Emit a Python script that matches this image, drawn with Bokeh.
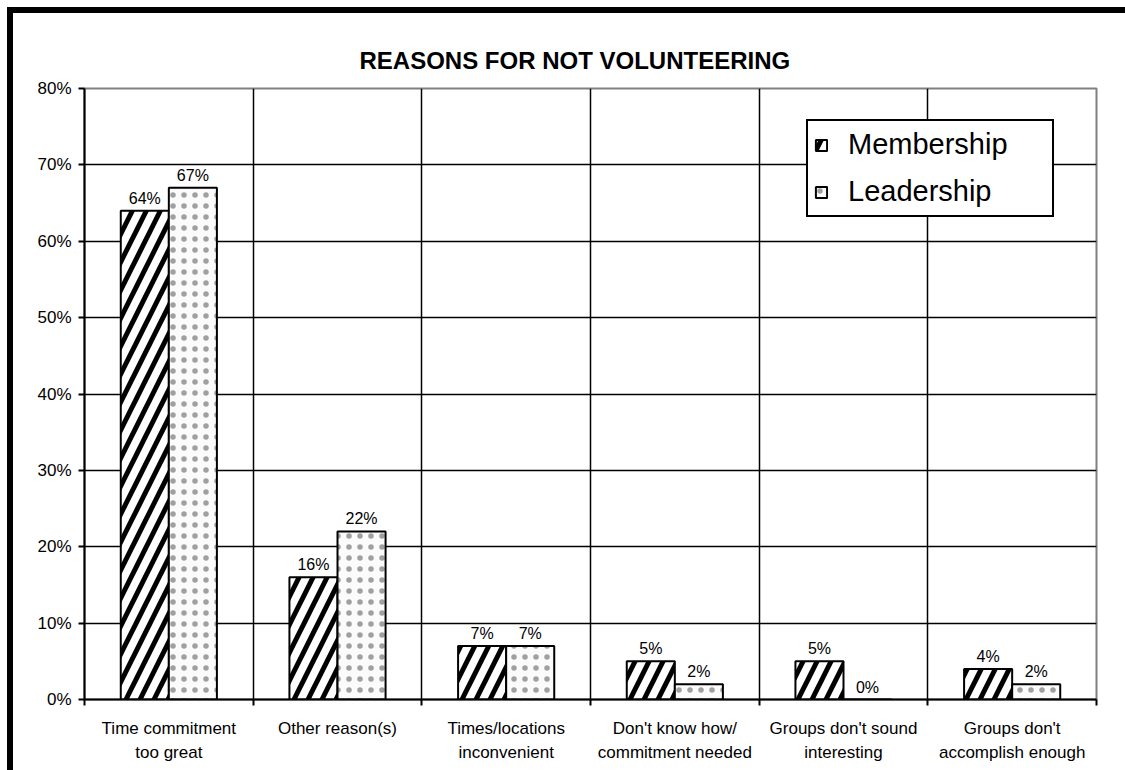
from bokeh.plotting import figure
from bokeh.models import (FixedTicker, PrintfTickFormatter, Legend, LegendItem,
                          ColumnDataSource, Range1d)
from bokeh.core.properties import value
from bokeh.embed import file_html
from bokeh.resources import INLINE

# ---- data ----
title_text = "REASONS FOR NOT VOLUNTEERING"
categories = ["Time commitment\ntoo great", "Other reason(s)", "Times/locations\ninconvenient",
              "Don't know how/\ncommitment needed", "Groups don't sound\ninteresting",
              "Groups don't\naccomplish enough"]
series_names = ["Membership", "Leadership"]
membership = [64, 16, 7, 5, 5, 4]
leadership = [67, 22, 7, 2, 0, 2]
y_ticks = [0, 10, 20, 30, 40, 50, 60, 70, 80]

FONT = "Liberation Sans"
n = len(categories)
centers = [i + 0.5 for i in range(n)]
bar_w = 0.285

src_m = ColumnDataSource(dict(x=[c - bar_w / 2 for c in centers], top=membership,
                              lab=[f"{v}%" for v in membership]))
src_l = ColumnDataSource(dict(x=[c + bar_w / 2 for c in centers], top=leadership,
                              lab=[f"{v}%" for v in leadership]))

p = figure(width=1112, height=757, x_range=Range1d(0, n), y_range=Range1d(0, 80),
           output_backend="svg", toolbar_location=None,
           min_border_left=71, min_border_right=29, min_border_top=75, min_border_bottom=71)
p.styles = {"margin-left": "13px", "margin-top": "13px",
            "box-shadow": "0 -6px 0 0 black, -6px 0 0 0 black, -6px -6px 0 0 black"}

p.background_fill_color = "white"
p.border_fill_color = "white"
p.outline_line_color = "#808080"
p.outline_line_width = 2

# title
p.title.text = title_text
p.title.text_font = FONT
p.title.text_font_size = "24px"
p.title.text_font_style = "bold"
p.title.text_color = "black"
p.title.align = "left"
p.title.offset = 275
p.title.standoff = 30

# bars
r_m = p.vbar(x="x", top="top", width=bar_w, bottom=0, source=src_m,
             fill_color="white", line_color="black", line_width=2,
             hatch_pattern="right_diagonal_line", hatch_color="black",
             hatch_weight=5, hatch_scale=28)
r_l = p.vbar(x="x", top="top", width=bar_w, bottom=0, source=src_l,
             fill_color="#fbfbfb", line_color="black", line_width=2,
             hatch_pattern="dot", hatch_color="#a0a0a0",
             hatch_weight=0.5, hatch_scale=11)

# data labels
for src in (src_m, src_l):
    p.text(x="x", y="top", text="lab", source=src, text_font=value(FONT),
           text_font_size="16px", text_align="center", text_baseline="bottom",
           y_offset=-4, text_color="black")

# axes
xa = p.xaxis[0]
xa.ticker = FixedTicker(ticks=centers, minor_ticks=list(range(n + 1)))
xa.major_label_overrides = {c: lab for c, lab in zip(centers, categories)}
xa.major_tick_out = 0
xa.major_tick_in = 0
xa.minor_tick_out = 6
xa.minor_tick_in = 0
xa.minor_tick_line_color = "black"
xa.minor_tick_line_width = 2
xa.axis_line_color = "black"
xa.axis_line_width = 2
xa.major_label_text_font = FONT
xa.major_label_text_font_size = "17px"
xa.major_label_text_color = "black"
xa.major_label_text_line_height = 1.3
xa.major_label_standoff = 13

ya = p.yaxis[0]
ya.ticker = FixedTicker(ticks=y_ticks, minor_ticks=[])
ya.formatter = PrintfTickFormatter(format="%d%%")
ya.major_tick_out = 6
ya.major_tick_in = 0
ya.major_tick_line_color = "black"
ya.major_tick_line_width = 2
ya.axis_line_color = "black"
ya.axis_line_width = 2
ya.major_label_text_font = FONT
ya.major_label_text_font_size = "17px"
ya.major_label_text_color = "black"
ya.major_label_standoff = 7

# grids
p.xgrid.ticker = FixedTicker(ticks=list(range(1, n)))
p.xgrid.grid_line_color = "black"
p.xgrid.grid_line_width = 1.5
p.ygrid.ticker = FixedTicker(ticks=y_ticks[1:-1])
p.ygrid.grid_line_color = "black"
p.ygrid.grid_line_width = 1.5

# legend
legend = Legend(items=[LegendItem(label=series_names[0], renderers=[r_m]),
                       LegendItem(label=series_names[1], renderers=[r_l])],
                location=(722, 482), padding=6, spacing=12, margin=0,
                label_height=35, glyph_height=14, glyph_width=14,
                label_standoff=20, label_width=198,
                label_text_font=FONT, label_text_font_size="29px",
                label_text_color="black",
                border_line_color="black", border_line_width=2, border_line_alpha=1,
                background_fill_color="white", background_fill_alpha=1)
p.add_layout(legend, "center")

open("out.html", "w").write(file_html(p, INLINE))
